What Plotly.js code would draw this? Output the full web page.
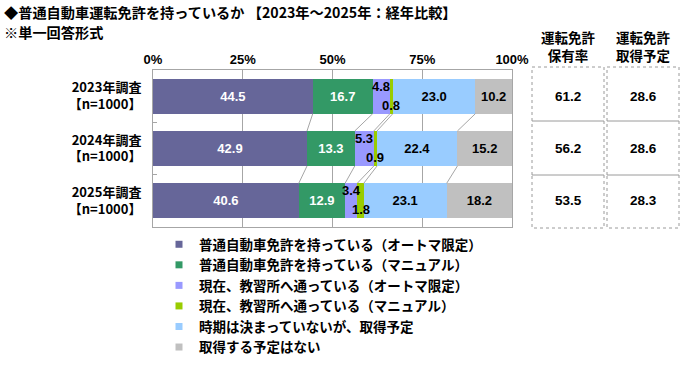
<!DOCTYPE html>
<html>
<head>
<meta charset="utf-8">
<script src="https://cdn.plot.ly/plotly-3.0.1.min.js"></script>
<style>html,body{margin:0;padding:0;background:#fff;}#chart{width:700px;height:380px;}</style>
</head>
<body>
<div id="chart"></div>
<script>
// ---- data ----
const categories = ['2023年調査<br>【n=1000】', '2024年調査<br>【n=1000】', '2025年調査<br>【n=1000】'];
const seriesNames = [
  '普通自動車免許を持っている（オートマ限定）',
  '普通自動車免許を持っている（マニュアル）',
  '現在、教習所へ通っている（オートマ限定）',
  '現在、教習所へ通っている（マニュアル）',
  '時期は決まっていないが、取得予定',
  '取得する予定はない'
];
const autoHave = [44.5, 42.9, 40.6];
const manualHave = [16.7, 13.3, 12.9];
const autoSchool = [4.8, 5.3, 3.4];
const manualSchool = [0.8, 0.9, 1.8];
const planned = [23.0, 22.4, 23.1];
const noPlan = [10.2, 15.2, 18.2];
const holdRate = [61.2, 56.2, 53.5];
const planRate = [28.6, 28.6, 28.3];
const tableHeaders = ['運転免許<br>保有率', '運転免許<br>取得予定'];
const xTicks = [0, 25, 50, 75, 100];
const xTickText = ['0%', '25%', '50%', '75%', '100%'];
const titleText = '◆普通自動車運転免許を持っているか 【2023年～2025年：経年比較】';
const subTitleText = '※単一回答形式';

// ---- styles ----
const series = [autoHave, manualHave, autoSchool, manualSchool, planned, noPlan];
const colors = ['#666699', '#339966', '#9999ff', '#99cc00', '#99ccff', '#c0c0c0'];
const textColors = ['#ffffff', '#ffffff', '#000000', '#000000', '#000000', '#000000'];
const inlineLabel = [true, true, false, false, true, true];
const JP = '"Noto Sans CJK JP", "Noto Sans", sans-serif';
const NUM = '"Liberation Sans", Arial, sans-serif';
const NARROW = '"Liberation Sans Narrow", "Arial Narrow", "Liberation Sans", sans-serif';
const TITLEF = '"Liberation Sans Narrow", "Arial Narrow", "Noto Sans CJK JP", sans-serif';
const BAR_W = 0.67;

// plot area in pixels: x 153..512, y 70..227
const PL = 153, PR = 512, PT = 70, PB = 227;
const px2x = p => (p - PL) / (PR - PL);
const px2y = p => (PB - p) / (PB - PT);

const traces = [];
series.forEach((vals, s) => {
  traces.push({
    type: 'bar', orientation: 'h', name: seriesNames[s],
    y: categories, x: vals,
    marker: {color: colors[s], line: {width: 0}},
    width: BAR_W,
    text: vals.map(v => v.toFixed(1)),
    textposition: inlineLabel[s] ? 'inside' : 'none',
    insidetextanchor: 'middle',
    textangle: 0,
    textfont: {family: NUM, size: 13, color: textColors[s], weight: 700},
    showlegend: false, hoverinfo: 'skip'
  });
});
// legend entries (small square markers)
series.forEach((vals, s) => {
  traces.push({
    type: 'scatter', mode: 'markers', name: seriesNames[s],
    x: [null], y: [null],
    marker: {symbol: 'square', size: 7, color: colors[s]},
    showlegend: true, hoverinfo: 'skip'
  });
});

// cumulative sums for connectors / small labels
const cums = categories.map((c, i) => {
  let acc = 0; const arr = [];
  series.forEach(v => { acc += v[i]; arr.push(acc); });
  return arr;
});

const shapes = [];
// connector lines between bars
for (let i = 0; i < categories.length - 1; i++) {
  for (let k = 0; k < series.length - 1; k++) {
    shapes.push({
      type: 'line', xref: 'x', yref: 'y',
      x0: cums[i][k], y0: i + BAR_W / 2,
      x1: cums[i + 1][k], y1: i + 1 - BAR_W / 2,
      line: {color: '#a6a6a6', width: 1}, layer: 'above'
    });
  }
}
// table cells
const colX = [[532, 604], [607, 679]];
const rowY = [67, 121, 175, 228];
colX.forEach(cx => {
  for (let r = 0; r < 3; r++) {
    shapes.push({
      type: 'rect', xref: 'paper', yref: 'paper',
      x0: px2x(cx[0]), x1: px2x(cx[1]), y0: px2y(rowY[r]), y1: px2y(rowY[r + 1]),
      line: {color: '#9a9a9a', width: 1, dash: 'dot'}
    });
  }
});

const annotations = [];
// small segment labels
[2, 3].forEach(s => {
  categories.forEach((c, i) => {
    const start = s === 0 ? 0 : cums[i][s - 1];
    annotations.push({
      xref: 'x', yref: 'y', x: start + series[s][i] / 2, y: i,
      xanchor: 'center', yanchor: 'middle',
      text: series[s][i].toFixed(1), showarrow: false,
      yshift: s === 2 ? 10 : -9,
      font: {family: NUM, size: 13, color: '#000', weight: 700}
    });
  });
});
// table values
const tableVals = [holdRate, planRate];
tableVals.forEach((vals, c) => {
  vals.forEach((v, i) => {
    annotations.push({
      xref: 'paper', yref: 'y', x: px2x((colX[c][0] + colX[c][1]) / 2), y: i,
      xanchor: 'center', yanchor: 'middle',
      text: v.toFixed(1), showarrow: false,
      font: {family: NUM, size: 13.5, color: '#000', weight: 700}
    });
  });
});
// table headers
tableHeaders.forEach((t, c) => {
  annotations.push({
    xref: 'paper', yref: 'paper', x: px2x((colX[c][0] + colX[c][1]) / 2), y: px2y(46),
    xanchor: 'center', yanchor: 'middle', text: t, showarrow: false,
    font: {family: JP, size: 13.5, color: '#000', weight: 700}
  });
});
// title lines
annotations.push({
  xref: 'paper', yref: 'paper', x: px2x(2), y: px2y(12), xanchor: 'left', yanchor: 'middle',
  text: titleText, showarrow: false,
  font: {family: TITLEF, size: 14.2, color: '#000', weight: 700}
});
annotations.push({
  xref: 'paper', yref: 'paper', x: px2x(2), y: px2y(32), xanchor: 'left', yanchor: 'middle',
  text: subTitleText, showarrow: false,
  font: {family: JP, size: 14.2, color: '#000', weight: 700}
});

const layout = {
  width: 700, height: 380,
  margin: {l: PL, r: 700 - PR, t: PT, b: 380 - PB, pad: 0},
  paper_bgcolor: '#fff', plot_bgcolor: '#fff',
  barmode: 'stack', bargap: 1 - BAR_W,
  showlegend: true,
  xaxis: {
    side: 'top', range: [0, 100], tickvals: xTicks, ticktext: xTickText,
    showgrid: true, gridcolor: '#a6a6a6', gridwidth: 1,
    showline: true, mirror: true, linecolor: '#a6a6a6', linewidth: 1,
    zeroline: false, ticks: '', fixedrange: true,
    tickfont: {family: NARROW, size: 13, color: '#000', weight: 700}
  },
  yaxis: {
    type: 'category', autorange: 'reversed',
    showline: true, mirror: true, linecolor: '#a6a6a6', linewidth: 1,
    showgrid: false, zeroline: false,
    ticks: 'inside', tickson: 'boundaries', ticklen: 4, tickcolor: '#a6a6a6',
    ticklabelstandoff: 8,
    tickfont: {family: JP, size: 13, color: '#000', weight: 700}
  },
  legend: {
    x: px2x(159), y: px2y(229), xanchor: 'left', yanchor: 'top',
    orientation: 'v', traceorder: 'normal',
    font: {family: JP, size: 13.5, color: '#000', weight: 700},
    bgcolor: 'rgba(0,0,0,0)', tracegroupgap: 0, itemwidth: 30
  },
  shapes: shapes,
  annotations: annotations
};

Plotly.newPlot('chart', traces, layout, {displayModeBar: false, staticPlot: true});
</script>
</body>
</html>
